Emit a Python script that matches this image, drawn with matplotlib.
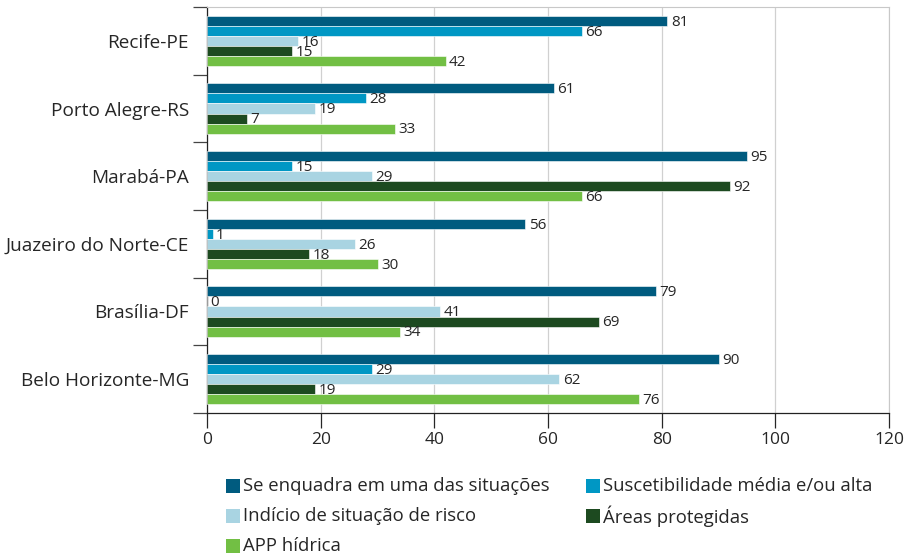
import numpy as np
import matplotlib
matplotlib.use("Agg")
import matplotlib.pyplot as plt
from matplotlib.patches import Rectangle

plt.rcParams['font.family'] = ['Open Sans', 'DejaVu Sans']

cities = ["Recife-PE", "Porto Alegre-RS", "Marabá-PA", "Juazeiro do Norte-CE",
          "Brasília-DF", "Belo Horizonte-MG"]
series = ["Se enquadra em uma das situações", "Suscetibilidade média e/ou alta",
          "Indício de situação de risco", "Áreas protegidas", "APP hídrica"]
enquadra = [81, 61, 95, 56, 79, 90]
suscet = [66, 28, 15, 1, 0, 29]
indicio = [16, 19, 29, 26, 41, 62]
areas = [15, 7, 92, 18, 69, 19]
app = [42, 33, 66, 30, 34, 76]
colors = ["#005b7f", "#0097c4", "#a9d4e2", "#1d4a20", "#72bf44"]

values = [enquadra, suscet, indicio, areas, app]
text_color = "#262626"

W, H = 911, 556
fig = plt.figure(figsize=(W / 100, H / 100), dpi=100)
ax = fig.add_axes([207 / W, 1 - 413 / H, 682 / W, 406 / H])

y = np.arange(len(cities))
h = 0.148
for i, (vals, c) in enumerate(zip(values, colors)):
    pos = y - 2 * h + i * h
    ax.barh(pos, vals, height=h, color=c, edgecolor="white", linewidth=0.4, zorder=3)
    for p, v in zip(pos, vals):
        ax.text(v + 0.6, p + 0.02, str(v), va="center", ha="left",
                fontsize=11, color=text_color, zorder=4)

ax.set_xlim(0, 120)
ax.set_ylim(len(cities) - 0.5, -0.5)
ax.set_xticks(range(0, 121, 20))
ax.tick_params(axis="x", labelsize=12.5, colors=text_color, length=11, width=0.9, pad=3)
ax.set_yticks(y)
ax.set_yticklabels(cities, fontsize=13.7, color=text_color)
ax.set_yticks(np.arange(-0.5, len(cities)), minor=True)
ax.tick_params(axis="y", which="major", length=0, pad=13)
ax.tick_params(axis="y", which="minor", length=10, width=0.9, color="#444444")
ax.grid(axis="x", color="#d0d0d0", linewidth=0.9, zorder=0)

for s in ["top", "right"]:
    ax.spines[s].set_color("#c8c8c8")
for s in ["left", "bottom"]:
    ax.spines[s].set_color("#222222")
    ax.spines[s].set_linewidth(0.9)

# legend: two columns, drawn entry by entry so rows line up
legend_pos = [(226, 486), (586, 486), (226, 516), (586, 516), (226, 546)]
sq = 14
for (lx, ly), c, name in zip(legend_pos, colors, series):
    fig.patches.append(Rectangle((lx / W, 1 - (ly + sq / 2) / H), sq / W, sq / H,
                                 transform=fig.transFigure, facecolor=c,
                                 edgecolor="none"))
    fig.text((lx + sq + 3) / W, 1 - ly / H, name, va="center", ha="left",
             fontsize=13.3, color=text_color)

fig.savefig("out.png", dpi=100)
